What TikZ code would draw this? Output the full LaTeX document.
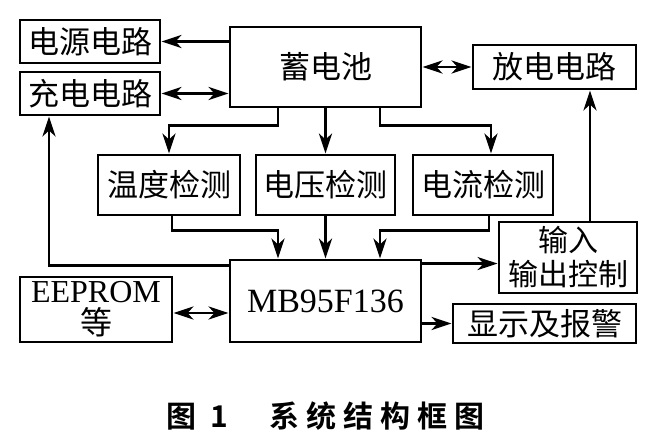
\documentclass[tikz,border=0pt]{standalone}
\usepackage{fontspec}
\setmainfont{Liberation Serif}
\newfontfamily\cjk{Noto Sans CJK SC}[BoldFont={Noto Sans CJK SC Bold}]
\usetikzlibrary{arrows.meta}

\begin{document}
\begin{tikzpicture}[x=1pt,y=-1pt,
  blk/.style={draw,line width=2.9pt,inner sep=0pt,align=center,font=\cjk\fontsize{31}{34}\selectfont},
  arr/.style={line width=2.9pt,-{Stealth[length=20pt,width=13pt,inset=6pt]}},
  darr/.style={line width=2.9pt,{Stealth[length=20pt,width=13pt,inset=6pt]}-{Stealth[length=20pt,width=13pt,inset=6pt]}}]
%\draw[step=10pt,gray,very thin] (0,0) grid (659,442);
\useasboundingbox (0,0) rectangle (659,442);

\node[blk,minimum width=140pt,minimum height=43pt] (power) at (90,41.5) {电源电路};
\node[blk,minimum width=140pt,minimum height=43pt] (charge) at (90,93.5) {充电电路};
\node[blk,minimum width=191pt,minimum height=80pt] (battery) at (325.5,67) {蓄电池};
\node[blk,minimum width=163pt,minimum height=44pt] (discharge) at (554.5,67) {放电电路};

\node[blk,minimum width=142pt,minimum height=60pt] (temp) at (169,185) {温度检测};
\node[blk,minimum width=139pt,minimum height=60pt] (volt) at (325.5,185) {电压检测};
\node[blk,minimum width=140pt,minimum height=60pt] (curr) at (483,185) {电流检测};

\node[blk,minimum width=138pt,minimum height=71pt,font=\cjk\fontsize{30}{34}\selectfont] (io) at (568,257.5) {输入\\输出控制};
\node[blk,minimum width=191pt,minimum height=82pt,font=\rmfamily\fontsize{34}{36}\selectfont] (mcu) at (325.5,301) {MB95F136};
\node[blk,minimum width=152pt,minimum height=65pt,font=\rmfamily\fontsize{32}{32}\selectfont] (eeprom) at (96,309.5) {EEPROM\\{\cjk 等}};
\node[blk,minimum width=183pt,minimum height=39pt] (disp) at (544.5,323.5) {显示及报警};

\draw[arr] (power.east -| battery.west) -- (power.east);
\draw[darr] (charge.east) -- (charge.east -| battery.west);
\draw[darr] (battery.east) -- (discharge.west);

\draw[arr] ([xshift=-47.5pt]battery.south) |- ([yshift=-17pt]battery.south -| temp.north) -- (temp.north);
\draw[arr] (battery.south) -- (volt.north);
\draw[arr] ([xshift=54.5pt]battery.south) |- ([xshift=8pt,yshift=-17pt]battery.south -| curr.north) -- ([xshift=8pt]curr.north);

\draw[arr] ([xshift=3pt]temp.south) |- ([xshift=-47.5pt,yshift=28pt]mcu.north) -- ([xshift=-47.5pt]mcu.north);
\draw[arr] (volt.south) -- (mcu.north);
\draw[arr] ([xshift=6pt]curr.south) |- ([xshift=54.5pt,yshift=28pt]mcu.north) -- ([xshift=54.5pt]mcu.north);

\draw[arr] ([yshift=-7pt]mcu.north west) -| ([xshift=-41pt]charge.south);
\draw[arr] ([yshift=-5pt]mcu.north east) -- ([yshift=-5pt]mcu.north east -| io.west);
\draw[arr] ([xshift=35.5pt]discharge.south |- io.north) -- ([xshift=35.5pt]discharge.south);
\draw[darr] ([yshift=-3.5pt]eeprom.east) -- ([yshift=-3.5pt]eeprom.east -| mcu.west);
\draw[arr] (disp.west -| mcu.east) -- (disp.west);

\node[font=\cjk\bfseries\fontsize{30}{32}\selectfont] (cap) at (325.5,416) {图\hspace{14pt}1\hspace{42pt}系\hspace{7pt}统\hspace{7pt}结\hspace{7pt}构\hspace{7pt}框\hspace{7pt}图};

\end{tikzpicture}
\end{document}
